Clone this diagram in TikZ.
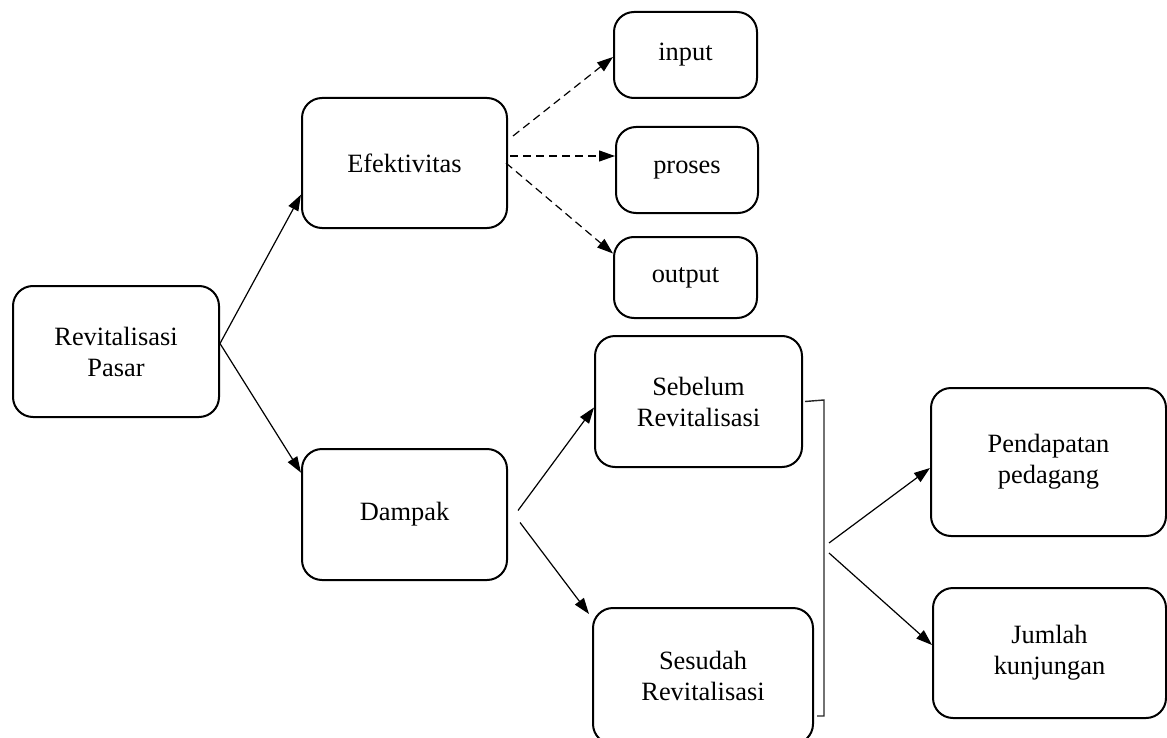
\documentclass[tikz,border=0pt]{standalone}
\usepackage{fontspec}
\setmainfont{Liberation Serif}
\usetikzlibrary{arrows.meta}

\begin{document}
\begin{tikzpicture}[x = 0.5pt, y = -0.5pt,
		kotak/.style = {draw, line width = 1pt, rounded corners = 10pt, align = center, inner sep = 0pt, font = \fontsize{13.2}{15.5}\selectfont},
		panah/.style = {line width = 0.6pt, -{Triangle[length = 8pt, width = 5.5pt]}},
		putus/.style = {panah, dashed, dash pattern = on 4pt off 2.5pt}]

	\useasboundingbox (0, 0) rectangle (1167, 738);

	\node [kotak, minimum width = 103pt, minimum height = 65.5pt] (rev) at (116, 351.5) {Revitalisasi\\Pasar};

	\node [kotak, minimum width = 102.5pt, minimum height = 65pt] (efek) at (404.5, 163) {Efektivitas};
	\node [kotak, minimum width = 102.5pt, minimum height = 65.5pt] (dampak) at (404.5, 514.5) {Dampak};

	\node [kotak, minimum width = 71.5pt, minimum height = 43pt] (input) at (685.5, 55) {input};
	\node [kotak, minimum width = 71pt, minimum height = 43pt] (proses) at (687, 170) {proses};
	\node [kotak, minimum width = 71.5pt, minimum height = 40.5pt] (output) at (685.5, 277.5) {output};

	\node [kotak, minimum width = 103.5pt, minimum height = 65.5pt] (sebelum) at (698.5, 401.5) {Sebelum\\Revitalisasi};
	\node [kotak, minimum width = 110pt, minimum height = 68pt] (sesudah) at (703, 676) {Sesudah\\Revitalisasi};

	\node [kotak, minimum width = 117.5pt, minimum height = 74pt] (pend) at (1048.5, 462) {Pendapatan\\pedagang};
	\node [kotak, minimum width = 116.5pt, minimum height = 65pt] (jumlah) at (1049.5, 653) {Jumlah\\kunjungan};

	\coordinate (b1) at (824, 400);
	\coordinate (b2) at (824, 716);
	\coordinate (b3) at (817, 716);
	\coordinate (m1) at (829, 543);
	\coordinate (m2) at (829, 553);

	\draw [panah] ([yshift = 4pt]rev.east) -- (efek.197);
	\draw [panah] ([yshift = 4pt]rev.east) -- (dampak.158);

	\draw [putus] ([xshift = 2.5pt, yshift = 13.5pt]efek.east) -- ([yshift = -1pt]input.west);
	\draw [putus] ([xshift = 1pt, yshift = 3.5pt]efek.east) -- ([yshift = 7pt]proses.west);
	\draw [putus] ([xshift = -1pt]efek.east) -- ([yshift = 12pt]output.west);

	\draw [panah] ([xshift = 5pt, yshift = 2pt]dampak.east) -- ([yshift = -3pt]sebelum.west);
	\draw [panah] ([xshift = 6pt, yshift = -4pt]dampak.east) -- ([xshift = -1.5pt, yshift = -3.5pt]sesudah.north west);

	\draw [line width = 0.7pt, black!85] ([xshift = 1pt]sebelum.east) -- (b1) -- (b2) -- (b3);

	\draw [panah] (m1) -- ([yshift = -3pt]pend.west);
	\draw [panah] (m2) -- ([yshift = 4pt]jumlah.west);
\end{tikzpicture}
\end{document}
